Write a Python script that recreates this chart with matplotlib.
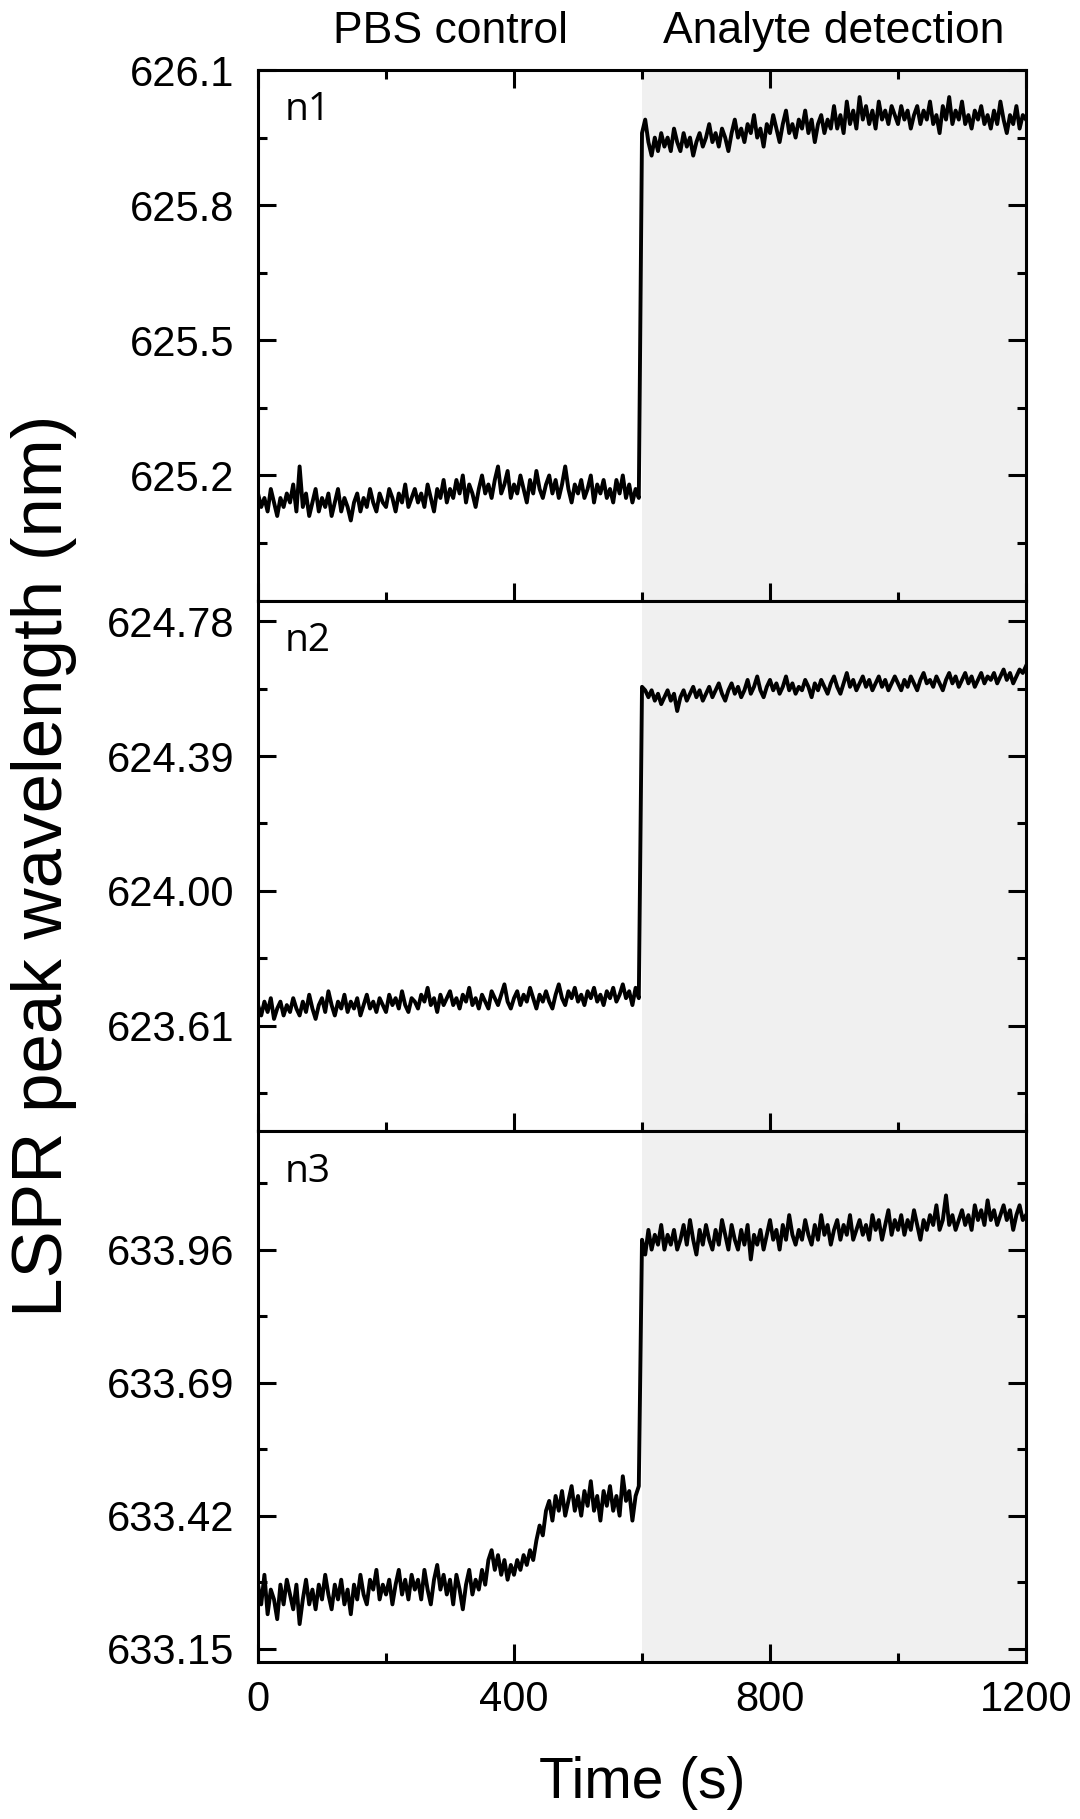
import numpy as np
import matplotlib
matplotlib.use("Agg")
import matplotlib.pyplot as plt
from matplotlib.transforms import blended_transform_factory

# time axis, one reading every 5 s
time_s = np.arange(0, 1201, 5)

# n1: PBS control (0-595 s), analyte (600-1200 s)
n1_pre = [
    625.16, 625.13, 625.15, 625.12, 625.17, 625.14, 625.11, 625.15, 625.13, 625.16,
    625.14, 625.18, 625.12, 625.22, 625.13, 625.16, 625.11, 625.14, 625.17, 625.12,
    625.15, 625.13, 625.16, 625.11, 625.14, 625.17, 625.12, 625.15, 625.13, 625.10,
    625.14, 625.16, 625.12, 625.15, 625.13, 625.17, 625.14, 625.12, 625.16, 625.14,
    625.13, 625.17, 625.15, 625.12, 625.16, 625.14, 625.18, 625.13, 625.15, 625.17,
    625.14, 625.16, 625.13, 625.18, 625.15, 625.12, 625.17, 625.15, 625.19, 625.14,
    625.17, 625.15, 625.19, 625.16, 625.20, 625.14, 625.18, 625.16, 625.13, 625.17,
    625.20, 625.16, 625.18, 625.15, 625.19, 625.22, 625.16, 625.18, 625.21, 625.15,
    625.18, 625.16, 625.20, 625.17, 625.14, 625.19, 625.16, 625.21, 625.17, 625.15,
    625.18, 625.20, 625.16, 625.19, 625.15, 625.18, 625.22, 625.17, 625.14, 625.18,
    625.16, 625.19, 625.15, 625.17, 625.20, 625.14, 625.18, 625.16, 625.19, 625.15,
    625.17, 625.14, 625.19, 625.16, 625.20, 625.15, 625.18, 625.14, 625.17, 625.15,
]
n1_post = [
    625.96, 625.99, 625.94, 625.91, 625.95, 625.92, 625.96, 625.93, 625.95, 625.92,
    625.97, 625.94, 625.92, 625.96, 625.93, 625.95, 625.91, 625.94, 625.96, 625.93,
    625.95, 625.98, 625.94, 625.96, 625.93, 625.97, 625.95, 625.92, 625.96, 625.99,
    625.95, 625.97, 625.94, 625.98, 625.96, 626.00, 625.95, 625.97, 625.93, 625.98,
    625.96, 626.00, 625.97, 625.94, 625.98, 626.01, 625.96, 625.98, 625.95, 625.99,
    625.97, 626.01, 625.96, 625.99, 625.94, 625.98, 626.00, 625.96, 625.99, 625.97,
    626.02, 625.97, 626.00, 625.96, 626.03, 625.98, 626.01, 625.97, 626.04, 625.99,
    626.02, 625.98, 626.01, 625.97, 626.03, 625.99, 626.01, 625.98, 626.02, 626.00,
    625.98, 626.02, 625.99, 626.01, 625.97, 626.00, 626.02, 625.98, 626.01, 625.99,
    626.03, 625.98, 626.00, 625.96, 626.02, 625.99, 626.04, 625.98, 626.01, 625.99,
    626.03, 625.98, 626.00, 625.97, 626.01, 625.99, 626.02, 625.98, 626.00, 625.97,
    626.01, 625.98, 626.03, 625.99, 625.96, 626.00, 625.98, 626.02, 625.97, 626.00,
    625.99,
]

n2_pre = [
    623.67, 623.64, 623.68, 623.65, 623.69, 623.63, 623.66, 623.68, 623.64, 623.67,
    623.65, 623.69, 623.66, 623.64, 623.68, 623.65, 623.70, 623.66, 623.63, 623.67,
    623.69, 623.65, 623.71, 623.67, 623.64, 623.68, 623.66, 623.70, 623.65, 623.68,
    623.66, 623.69, 623.64, 623.67, 623.70, 623.66, 623.68, 623.65, 623.69, 623.67,
    623.65, 623.70, 623.67, 623.69, 623.66, 623.71, 623.67, 623.65, 623.69, 623.68,
    623.66, 623.70, 623.68, 623.72, 623.67, 623.69, 623.65, 623.70, 623.67, 623.69,
    623.71, 623.67, 623.69, 623.66, 623.70, 623.68, 623.72, 623.67, 623.69, 623.66,
    623.70, 623.68, 623.66, 623.71, 623.69, 623.67, 623.70, 623.73, 623.68, 623.66,
    623.69, 623.71, 623.67, 623.70, 623.68, 623.72, 623.69, 623.66, 623.70, 623.68,
    623.71, 623.68, 623.66, 623.70, 623.73, 623.69, 623.67, 623.71, 623.69, 623.72,
    623.68, 623.70, 623.67, 623.71, 623.69, 623.72, 623.68, 623.70, 623.67, 623.71,
    623.69, 623.72, 623.68, 623.70, 623.73, 623.69, 623.71, 623.67, 623.72, 623.69,
]
n2_post = [
    624.59, 624.58, 624.56, 624.58, 624.55, 624.57, 624.54, 624.56, 624.58, 624.55,
    624.57, 624.52, 624.56, 624.58, 624.55, 624.57, 624.59, 624.56, 624.58, 624.55,
    624.57, 624.59, 624.56, 624.58, 624.60, 624.57, 624.55, 624.58, 624.60, 624.57,
    624.59, 624.56, 624.58, 624.61, 624.57, 624.59, 624.62, 624.58, 624.56, 624.59,
    624.61, 624.58, 624.60, 624.57, 624.59, 624.62, 624.58, 624.60, 624.57, 624.59,
    624.58, 624.61, 624.59, 624.56, 624.60, 624.58, 624.61, 624.59, 624.57, 624.60,
    624.62, 624.59, 624.57, 624.60, 624.63, 624.59, 624.61, 624.58, 624.60, 624.62,
    624.59, 624.61, 624.58, 624.60, 624.62, 624.59, 624.61, 624.58, 624.60, 624.62,
    624.60, 624.58, 624.61, 624.59, 624.62, 624.60, 624.58, 624.61, 624.63, 624.60,
    624.61, 624.59, 624.62, 624.60, 624.58, 624.61, 624.63, 624.60, 624.62, 624.59,
    624.61, 624.63, 624.60, 624.62, 624.59, 624.61, 624.63, 624.60, 624.62, 624.61,
    624.63, 624.60, 624.62, 624.64, 624.61, 624.63, 624.60, 624.62, 624.64, 624.63,
    624.65,
]

n3_pre = [
    633.28, 633.24, 633.30, 633.22, 633.27, 633.25, 633.21, 633.28, 633.24, 633.29,
    633.26, 633.23, 633.28, 633.20, 633.25, 633.29, 633.24, 633.27, 633.23, 633.28,
    633.25, 633.30, 633.26, 633.23, 633.28, 633.25, 633.29, 633.24, 633.27, 633.22,
    633.28, 633.25, 633.30, 633.26, 633.24, 633.29, 633.27, 633.31, 633.25, 633.28,
    633.26, 633.29, 633.24, 633.28, 633.31, 633.26, 633.29, 633.25, 633.30, 633.27,
    633.29, 633.25, 633.31, 633.27, 633.24, 633.29, 633.32, 633.27, 633.30, 633.26,
    633.29, 633.24, 633.30, 633.27, 633.23, 633.28, 633.31, 633.26, 633.29, 633.27,
    633.31, 633.28, 633.33, 633.35, 633.31, 633.34, 633.30, 633.33, 633.29, 633.32,
    633.30, 633.33, 633.31, 633.34, 633.32, 633.35, 633.33, 633.37, 633.40, 633.38,
    633.43, 633.45, 633.41, 633.46, 633.43, 633.47, 633.42, 633.45, 633.48, 633.43,
    633.46, 633.42, 633.47, 633.44, 633.49, 633.43, 633.46, 633.41, 633.47, 633.44,
    633.48, 633.43, 633.46, 633.42, 633.50, 633.45, 633.47, 633.41, 633.46, 633.48,
]
n3_post = [
    633.98, 633.95, 634.00, 633.96, 633.99, 633.97, 634.01, 633.96, 633.99, 633.97,
    634.00, 633.96, 633.98, 634.01, 633.97, 634.02, 633.98, 633.95, 634.00, 633.97,
    634.01, 633.98, 633.96, 634.00, 633.97, 634.02, 633.99, 633.96, 634.01, 633.98,
    633.96, 634.00, 633.97, 634.01, 633.94, 633.99, 633.97, 634.00, 633.96, 633.99,
    634.02, 633.98, 634.00, 633.96, 634.01, 633.98, 634.03, 633.99, 633.97, 634.00,
    633.98, 634.02, 633.99, 633.97, 634.01, 633.98, 634.03, 633.99, 634.01, 633.97,
    634.00, 634.02, 633.98, 634.01, 633.99, 634.03, 633.98, 634.00, 634.02, 633.99,
    634.01, 633.98, 634.03, 634.00, 634.02, 633.98, 634.01, 634.04, 633.99, 634.02,
    634.00, 634.03, 633.99, 634.02, 634.00, 634.04, 634.01, 633.98, 634.02, 634.00,
    634.03, 634.01, 634.05, 634.00, 634.02, 634.07, 634.01, 634.03, 634.00, 634.02,
    634.04, 634.01, 634.03, 634.00, 634.05, 634.02, 634.04, 634.01, 634.06, 634.02,
    634.04, 634.01, 634.03, 634.05, 634.02, 634.04, 634.00, 634.03, 634.05, 634.02,
    634.03,
]

panel_names = ["n1", "n2", "n3"]
series = [n1_pre + n1_post, n2_pre + n2_post, n3_pre + n3_post]
y_limits = [(624.922, 626.1), (623.305, 624.839), (633.123, 634.2)]
y_major = [[625.2, 625.5, 625.8, 626.1],
           [623.61, 624.00, 624.39, 624.78],
           [633.15, 633.42, 633.69, 633.96]]
y_labels = [["625.2", "625.5", "625.8", "626.1"],
            ["623.61", "624.00", "624.39", "624.78"],
            ["633.15", "633.42", "633.69", "633.96"]]
y_minor = [[625.05, 625.35, 625.65, 625.95],
           [623.415, 623.805, 624.195, 624.585],
           [633.285, 633.555, 633.825, 634.095]]
x_major = [0, 400, 800, 1200]
x_minor = [200, 600, 1000]
switch_time = 600
phase_labels = ["PBS control", "Analyte detection"]
phase_centres = [300, 900]

font = "Liberation Sans"
plt.rcParams["font.family"] = [font, "DejaVu Sans"]

fig, axes = plt.subplots(3, 1, sharex=True, figsize=(10.8, 18.19), dpi=100)
fig.subplots_adjust(left=0.2389, right=0.95, top=0.9615, bottom=0.0863, hspace=0)

for i, ax in enumerate(axes):
    ax.axvspan(switch_time, 1200, color="#f0f0f0", lw=0, zorder=0)
    ax.plot(time_s, series[i], color="black", lw=2.8, zorder=2)
    ax.set_xlim(0, 1200)
    ax.set_ylim(*y_limits[i])
    ax.set_yticks(y_major[i])
    ax.set_yticklabels(y_labels[i])
    ax.set_yticks(y_minor[i], minor=True)
    ax.set_xticks(x_major)
    ax.set_xticks(x_minor, minor=True)
    for s in ax.spines.values():
        s.set_linewidth(2.2)
        s.set_zorder(3)
    ax.tick_params(which="both", direction="in", width=2.2, right=True,
                   top=(i == 0), labelsize=30)
    ax.tick_params(which="major", length=13)
    ax.tick_params(which="minor", length=6.5)
    ax.tick_params(axis="y", pad=17)
    ax.tick_params(axis="x", pad=13)
    ax.text(0.035, 0.96, panel_names[i], transform=ax.transAxes,
            fontsize=28, family="Open Sans", va="top", ha="left")

trans = blended_transform_factory(axes[0].transData, fig.transFigure)
for lab, xc in zip(phase_labels, phase_centres):
    fig.text(xc, 1 - 43 / 1819, lab, transform=trans, ha="center",
             va="baseline", fontsize=32)

fig.text(44 / 1080, 1 - 866 / 1819, "LSPR peak wavelength (nm)", rotation=90,
         ha="center", va="center", fontsize=51)
fig.text(0.5944, 1 - 1783 / 1819, "Time (s)", ha="center", va="center",
         fontsize=41)

fig.savefig("out.png", dpi=100)
